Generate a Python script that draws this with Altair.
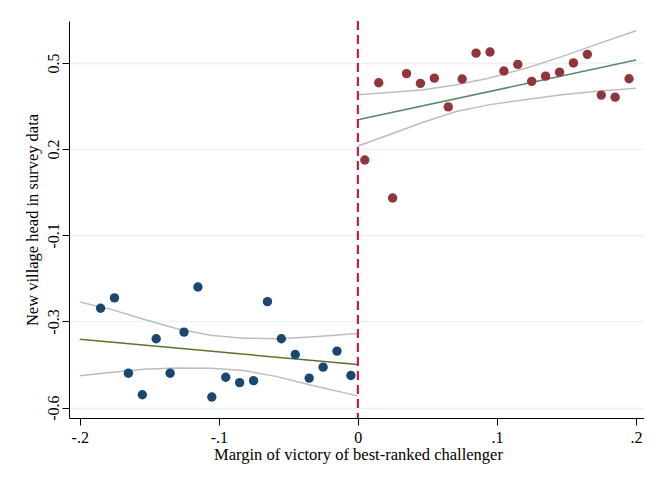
import altair as alt
import pandas as pd

# ---- data ----
left_x = [-0.185, -0.175, -0.165, -0.155, -0.145, -0.135, -0.125, -0.115, -0.105, -0.095,
          -0.085, -0.075, -0.065, -0.055, -0.045, -0.035, -0.025, -0.015, -0.005]
left_y = [-0.354, -0.318, -0.580, -0.655, -0.460, -0.580, -0.437, -0.280, -0.663, -0.594,
          -0.613, -0.606, -0.331, -0.460, -0.515, -0.597, -0.559, -0.503, -0.588]

right_x = [0.005, 0.015, 0.025, 0.035, 0.045, 0.055, 0.065, 0.075, 0.085, 0.095,
           0.105, 0.115, 0.125, 0.135, 0.145, 0.155, 0.165, 0.175, 0.185, 0.195]
right_y = [0.162, 0.431, 0.030, 0.463, 0.429, 0.447, 0.347, 0.444, 0.534, 0.538,
           0.472, 0.495, 0.436, 0.454, 0.468, 0.500, 0.530, 0.388, 0.381, 0.445]

left_fit_x = [-0.2, 0.0]
left_fit_y = [-0.462, -0.550]
left_ci_x = [-0.2, -0.178, -0.154, -0.130, -0.106, -0.082, -0.058, -0.034, 0.0]
left_ci_hi = [-0.332, -0.357, -0.392, -0.425, -0.448, -0.458, -0.460, -0.454, -0.442]
left_ci_lo = [-0.589, -0.578, -0.566, -0.562, -0.563, -0.571, -0.592, -0.621, -0.659]

right_fit_x = [0.0, 0.2]
right_fit_y = [0.302, 0.510]
right_ci_x = [0.0, 0.022, 0.046, 0.070, 0.094, 0.1226, 0.1466, 0.1705, 0.2]
right_ci_hi = [0.389, 0.397, 0.406, 0.423, 0.447, 0.484, 0.522, 0.563, 0.612]
right_ci_lo = [0.211, 0.249, 0.292, 0.330, 0.354, 0.374, 0.389, 0.401, 0.412]

cutoff = [0.0]

x_tick_values = [-0.2, -0.1, 0.0, 0.1, 0.2]
x_tick_labels = ["-.2", "-.1", "0", ".1", ".2"]
y_tick_values = [0.5, 0.2, -0.1, -0.4, -0.7]
y_tick_labels = ["0.5", "0.2", "-0.1", "-0.3", "-0.6"]

x_title = "Margin of victory of best-ranked challenger"
y_title = "New village head in survey data"

FONT = "Liberation Serif"
W, H = 578, 397


def label_expr(vals, labels):
    parts = [f"abs(datum.value - ({v})) < 1e-6 ? '{l}'" for v, l in zip(vals, labels)]
    return " : ".join(parts) + " : ''"


x_scale = alt.Scale(domain=[-0.2077, 0.2079], nice=False, zero=False)
y_scale = alt.Scale(domain=[-0.736, 0.646], nice=False, zero=False)

x_axis = alt.Axis(values=x_tick_values, labelExpr=label_expr(x_tick_values, x_tick_labels),
                  title=x_title, grid=False, tickSize=7, labelPadding=17,
                  labelBaseline="alphabetic", labelAlign="center",
                  titleBaseline="alphabetic", titleAlign="center", titleX=W / 2, titleY=41,
                  labelFlush=False, labelOverlap=False)
y_axis = alt.Axis(values=y_tick_values, labelExpr=label_expr(y_tick_values, y_tick_labels),
                  title=y_title, grid=True, gridColor="#eaf2f3", gridWidth=1.5,
                  tickSize=7, labelAngle=270, labelAlign="center", labelBaseline="alphabetic",
                  labelPadding=3.7, titleAngle=270, titleAlign="center",
                  titleBaseline="alphabetic", titleX=-31.5, titleY=H / 2,
                  labelFlush=False, labelOverlap=False)

pts = pd.DataFrame({"x": left_x + right_x, "y": left_y + right_y,
                    "side": ["L"] * len(left_x) + ["R"] * len(right_x)})


def line_layer(xs, ys, color, width):
    df = pd.DataFrame({"x": xs, "y": ys})
    return alt.Chart(df).mark_line(color=color, strokeWidth=width).encode(
        x=alt.X("x:Q", scale=x_scale, axis=x_axis),
        y=alt.Y("y:Q", scale=y_scale, axis=y_axis),
    )


ci_color = "#bdbdbd"
layers = [
    line_layer(left_ci_x, left_ci_hi, ci_color, 1.5),
    line_layer(left_ci_x, left_ci_lo, ci_color, 1.5),
    line_layer(right_ci_x, right_ci_hi, ci_color, 1.5),
    line_layer(right_ci_x, right_ci_lo, ci_color, 1.5),
    line_layer(left_fit_x, left_fit_y, "#55752f", 1.5),
    line_layer(right_fit_x, right_fit_y, "#5b8676", 1.5),
]

rule = alt.Chart(pd.DataFrame({"x": cutoff})).mark_rule(
    color="#d4083c", strokeWidth=2, strokeDash=[9, 5]
).encode(x=alt.X("x:Q", scale=x_scale, axis=x_axis))

points = alt.Chart(pts).mark_circle(size=88, opacity=1).encode(
    x=alt.X("x:Q", scale=x_scale, axis=x_axis),
    y=alt.Y("y:Q", scale=y_scale, axis=y_axis),
    color=alt.Color("side:N", scale=alt.Scale(domain=["L", "R"], range=["#1a476f", "#90353b"]),
                    legend=None),
)

# total svg width = 61 + 578 - 3 = 636 (fits the 636px body without being scaled down)
chart = alt.layer(*layers, rule, points).properties(
    width=W, height=H,
    autosize=alt.AutoSizeParams(type="none"),
    padding={"left": 61, "top": 13, "right": -3, "bottom": 50},
    background="white",
).configure_view(strokeWidth=0).configure_axis(
    labelFont=FONT, titleFont=FONT, labelFontSize=16, titleFontSize=16.5,
    titleFontWeight="normal", labelColor="black", titleColor="black",
    domainColor="black", tickColor="black", domainWidth=1, tickWidth=1,
)

chart.save("out.html", embed_options={"renderer": "svg", "actions": False})
